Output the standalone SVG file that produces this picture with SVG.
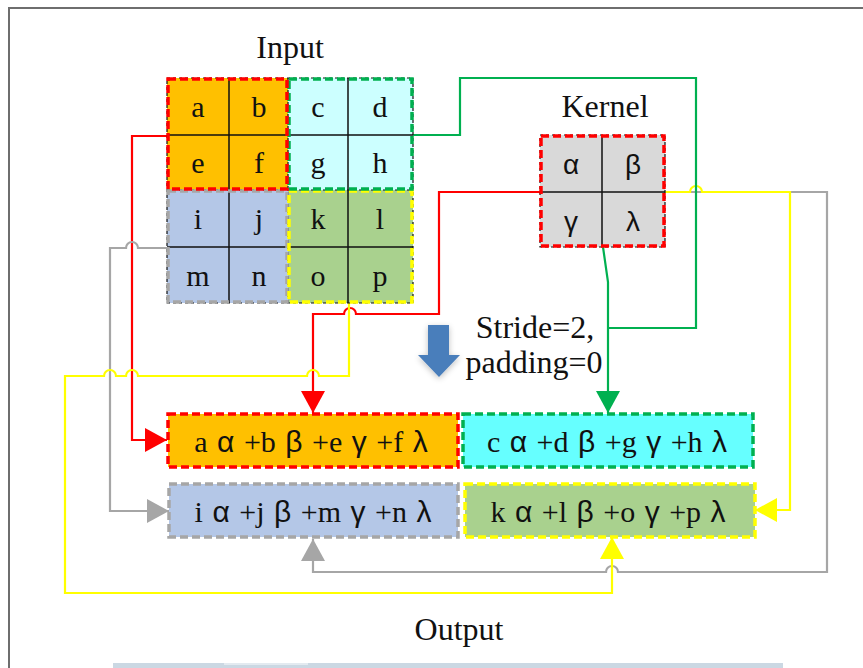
<svg xmlns="http://www.w3.org/2000/svg" width="863" height="668" viewBox="0 0 863 668">
<style>
text{font-family:"Liberation Serif","Times New Roman",serif;fill:#111;}
.lbl{font-size:32px;text-anchor:middle;}
.cell{font-size:30px;text-anchor:middle;}
.kc{font-size:28px;text-anchor:middle;}
.out{font-size:30px;text-anchor:middle;word-spacing:2px;}
.g{font-family:"Liberation Sans","DejaVu Sans",sans-serif;}
.grid{stroke:#111;stroke-width:1.5;fill:none;}
.blk{fill:none;stroke:#111;stroke-width:1.2;stroke-dasharray:3 3;}
.dr{fill:none;stroke:#FF0000;stroke-width:3.5;stroke-dasharray:8 4;}
.dg{fill:none;stroke:#00B050;stroke-width:3.5;stroke-dasharray:8 4;}
.dy{fill:none;stroke:#FFFF00;stroke-width:3.5;stroke-dasharray:8 4;}
.da{fill:none;stroke:#A6A6A6;stroke-width:3.5;stroke-dasharray:8 4;}
.c{fill:none;stroke-width:2.2;stroke-linejoin:miter;}
.red{stroke:#FF0000;}
.grn{stroke:#00B050;}
.yel{stroke:#FFFF00;}
.gry{stroke:#A6A6A6;}
</style>
<defs>
<marker id="aR" markerUnits="userSpaceOnUse" markerWidth="22" markerHeight="24" refX="22" refY="12" orient="auto"><path d="M0,0 L22,12 L0,24 z" fill="#FF0000"/></marker>
<marker id="aG" markerUnits="userSpaceOnUse" markerWidth="22" markerHeight="24" refX="22" refY="12" orient="auto"><path d="M0,0 L22,12 L0,24 z" fill="#00B050"/></marker>
<marker id="aY" markerUnits="userSpaceOnUse" markerWidth="22" markerHeight="24" refX="22" refY="12" orient="auto"><path d="M0,0 L22,12 L0,24 z" fill="#FFFF00"/></marker>
<marker id="aA" markerUnits="userSpaceOnUse" markerWidth="22" markerHeight="24" refX="22" refY="12" orient="auto"><path d="M0,0 L22,12 L0,24 z" fill="#A6A6A6"/></marker>
<filter id="sh" x="-50%" y="-50%" width="200%" height="200%"><feGaussianBlur in="SourceAlpha" stdDeviation="3"/><feOffset dx="0" dy="2"/><feComponentTransfer><feFuncA type="linear" slope="0.25"/></feComponentTransfer><feMerge><feMergeNode/><feMergeNode in="SourceGraphic"/></feMerge></filter>
</defs>
<rect width="863" height="668" fill="#FFFFFF"/>
<g id="frame">
<path d="M9,668 V8 H863" fill="none" stroke="#6E6E6E" stroke-width="2"/>
<rect x="113" y="663" width="670" height="5" fill="#CBD8E3"/>
<rect x="224" y="663" width="84" height="2" fill="#E3EAF0"/>
</g>
<g id="connectors">
<path class="c red" d="M167,136 H132 V440 H167" marker-end="url(#aR)"/>
<path class="c gry" d="M167,248 H138 A6,6 0 0 0 126,248 H110 V511 H169" marker-end="url(#aA)"/>
<path class="c red" d="M540,192 H439 V314 H356 A6,6 0 0 0 344,314 H313 V413" marker-end="url(#aR)"/>
<path class="c gry" d="M665,192 H827 V572 H618 A6,6 0 0 0 606,572 H313 V539" marker-end="url(#aA)"/>
<path class="c yel" d="M665,192 H690 A6,6 0 0 1 702,192 H790 V510 H755" marker-end="url(#aY)"/>
<path class="c yel" d="M349,303 V376 H319 A6,6 0 0 0 307,376 H138 A6,6 0 0 0 126,376 H116 A6,6 0 0 0 104,376 H65 V593 H612 V537" marker-end="url(#aY)"/>
<path class="c grn" d="M413,135 H460 V78 H696 V328 H608"/>
<path class="c grn" d="M603,247 L608,282 V413" marker-end="url(#aG)"/>
</g>
<g id="input">
<rect x="167" y="78" width="121" height="112" fill="#FFC000"/>
<rect x="288" y="78" width="125" height="112" fill="#CCFFFF"/>
<rect x="167" y="190" width="121" height="113" fill="#B4C7E7"/>
<rect x="288" y="190" width="125" height="113" fill="#A9D18E"/>
<path class="grid" d="M229,78 V303 M348,78 V303 M167,135 H413 M167,247 H413"/>
<rect class="blk" x="167" y="78" width="246" height="225"/>
<path class="blk" d="M288,78 V303 M167,190 H413"/>
<rect class="da" x="168" y="191" width="119" height="111"/>
<rect class="dy" x="289" y="191" width="123" height="111"/>
<rect class="dg" x="289" y="79" width="123" height="110"/>
<rect class="dr" x="168" y="79" width="119" height="110"/>
<text class="cell" x="198" y="117">a</text>
<text class="cell" x="259" y="117">b</text>
<text class="cell" x="318" y="117">c</text>
<text class="cell" x="380" y="117">d</text>
<text class="cell" x="198" y="173">e</text>
<text class="cell" x="259" y="173">f</text>
<text class="cell" x="318" y="173">g</text>
<text class="cell" x="380" y="173">h</text>
<text class="cell" x="198" y="229">i</text>
<text class="cell" x="259" y="229">j</text>
<text class="cell" x="318" y="229">k</text>
<text class="cell" x="380" y="229">l</text>
<text class="cell" x="198" y="286">m</text>
<text class="cell" x="259" y="286">n</text>
<text class="cell" x="318" y="286">o</text>
<text class="cell" x="380" y="286">p</text>
<text class="lbl" x="290" y="58">Input</text>
</g>
<g id="kernel">
<rect x="540" y="135" width="125" height="112" fill="#D9D9D9"/>
<path class="grid" d="M602,135 V247 M540,192 H665"/>
<rect class="blk" x="540" y="135" width="125" height="112"/>
<rect class="dr" x="541" y="136" width="123" height="110"/>
<text class="kc g" x="571" y="174">α</text>
<text class="kc g" x="633" y="174">β</text>
<text class="kc g" x="571" y="231">γ</text>
<text class="kc g" x="633" y="231">λ</text>
<text class="lbl" x="605" y="117">Kernel</text>
</g>
<g id="stride">
<path d="M428,325 H449 V355 H460 L439,377 L418,355 H428 Z" fill="#4A7EBB" filter="url(#sh)"/>
<text class="lbl" x="535" y="338">Stride=2,</text>
<text class="lbl" x="534" y="373">padding=0</text>
</g>
<g id="out1">
<rect x="168" y="414" width="290" height="53" fill="#FFC000"/>
<rect class="dr" x="168" y="414" width="290" height="53"/>
<text class="out" x="311" y="452">a <tspan class="g">α</tspan> +b <tspan class="g">β</tspan> +e <tspan class="g">γ</tspan> +f <tspan class="g">λ</tspan></text>
</g>
<g id="out2">
<rect x="463" y="414" width="290" height="53" fill="#66FFFF"/>
<rect class="dg" x="463" y="414" width="290" height="53"/>
<text class="out" x="607" y="452">c <tspan class="g">α</tspan> +d <tspan class="g">β</tspan> +g <tspan class="g">γ</tspan> +h <tspan class="g">λ</tspan></text>
</g>
<g id="out3">
<rect x="169" y="484" width="289" height="53" fill="#B4C7E7"/>
<rect class="da" x="169" y="484" width="289" height="53"/>
<text class="out" x="313" y="522">i <tspan class="g">α</tspan> +j <tspan class="g">β</tspan> +m <tspan class="g">γ</tspan> +n <tspan class="g">λ</tspan></text>
</g>
<g id="out4">
<rect x="465" y="484" width="290" height="53" fill="#A9D18E"/>
<rect class="dy" x="465" y="484" width="290" height="53"/>
<text class="out" x="608" y="522">k <tspan class="g">α</tspan> +l <tspan class="g">β</tspan> +o <tspan class="g">γ</tspan> +p <tspan class="g">λ</tspan></text>
</g>
<text class="lbl" x="459" y="640">Output</text>
</svg>
